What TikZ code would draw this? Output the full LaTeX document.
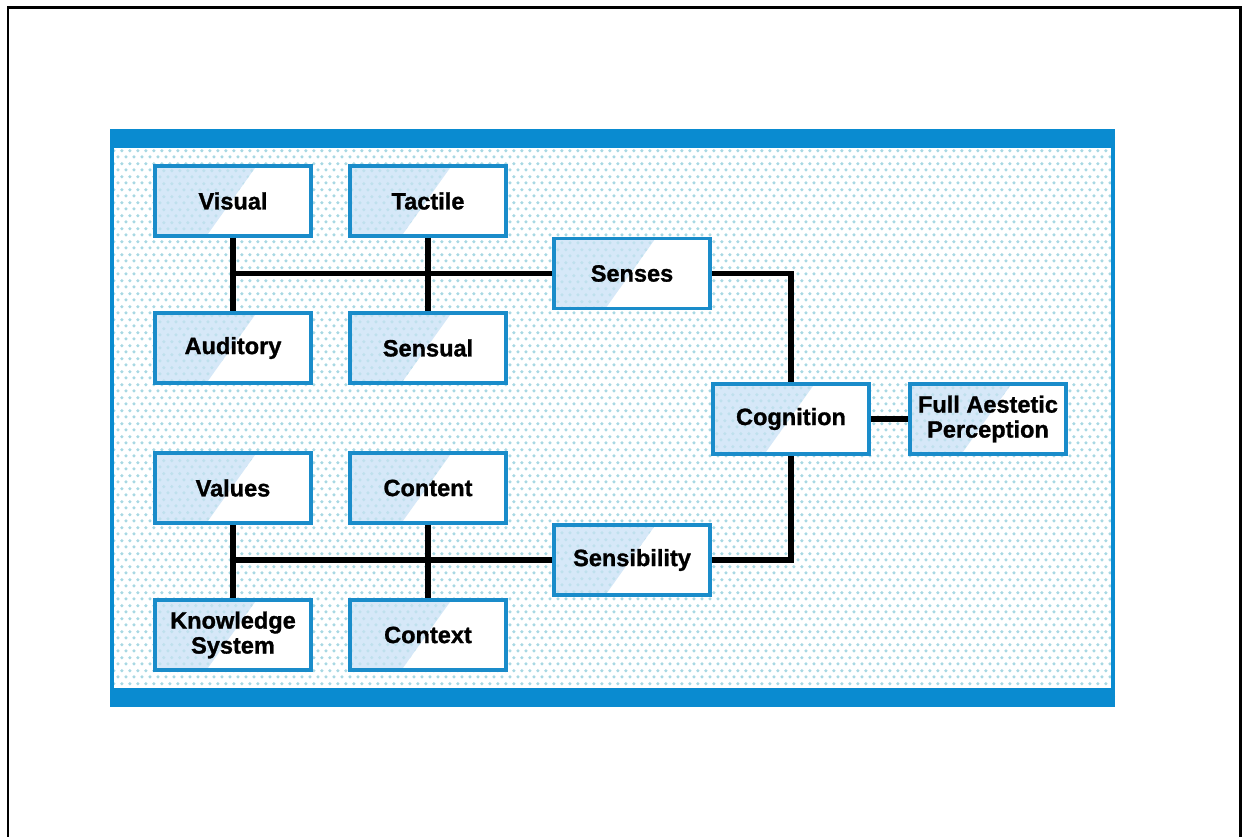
\documentclass[tikz,border=0pt]{standalone}
\usepackage{fontspec}
\setmainfont{Liberation Sans}[BoldFeatures={FakeBold=1.2}]
\usepackage{tikz}
\usetikzlibrary{calc,positioning,patterns}
\definecolor{barblue}{HTML}{0A8BD0}
\definecolor{boxblue}{HTML}{1A8CCA}
\definecolor{shadeblue}{HTML}{D6E8F8}
\definecolor{dotteal}{HTML}{A8D8E3}
\pgfdeclarepatternformonly{hexdots}{\pgfpoint{0pt}{0pt}}{\pgfpoint{4.76pt}{7.49pt}}{\pgfpoint{4.76pt}{7.49pt}}{
  \pgfpathcircle{\pgfpoint{1.19pt}{1.87pt}}{1.05pt}
  \pgfpathcircle{\pgfpoint{3.57pt}{5.62pt}}{1.05pt}
  \pgfusepath{fill}
}
\tikzset{
  fbox/.style={rectangle, draw=boxblue, fill=white, line width=2pt,
               minimum width=3.12cm, minimum height=1.4cm, inner sep=2pt,
               align=center, font=\fontsize{13.4}{14.2}\selectfont\bfseries,
               path picture={
                 \path[fill=shadeblue, postaction={pattern=hexdots, pattern color=dotteal!50!shadeblue}]
                   (path picture bounding box.north west)
                   -- ($(path picture bounding box.north west)!0.65!(path picture bounding box.north east)$)
                   -- ($(path picture bounding box.south west)!0.33!(path picture bounding box.south east)$)
                   -- (path picture bounding box.south west) -- cycle;}},
  link/.style={line width=3.3pt, draw=black}
}

\begin{document}
\begin{tikzpicture}
  \useasboundingbox (0,0) rectangle (24.84,16.74);
  \draw[line width=1.7pt] (0.16,0) -- (0.16,16.58) -- (24.8,16.58) -- (24.8,0);
  % dotted panel
  \fill[pattern=hexdots, pattern color=dotteal] (2.2,2.64) rectangle (22.3,14.12);
  \draw[barblue, line width=2.3pt] (2.24,2.64) rectangle (22.26,14.12);
  \fill[barblue] (2.2,13.78) rectangle (22.3,14.12);
  \fill[barblue] (2.2,2.64) rectangle (22.3,2.98);
  % boxes
  \node[fbox] (visual)    at ( 4.66, 12.72) {Visual};
  \node[fbox] (tactile)   at ( 8.56, 12.72) {Tactile};
  \node[fbox] (senses)    at (12.64, 11.27) {Senses};
  \node[fbox] (auditory)  at ( 4.66,  9.78) {Auditory};
  \node[fbox] (sensual)   at ( 8.56,  9.78) {Sensual};
  \node[fbox] (cognition) at (15.82,  8.36) {Cognition};
  \node[fbox] (full)      at (19.76,  8.36) {Full Aestetic\\Perception};
  \node[fbox] (values)    at ( 4.66,  6.98) {Values};
  \node[fbox] (content)   at ( 8.56,  6.98) {Content};
  \node[fbox] (sensib)    at (12.64,  5.54) {Sensibility};
  \node[fbox] (knowledge) at ( 4.66,  4.04) {Knowledge\\System};
  \node[fbox] (context)   at ( 8.56,  4.04) {Context};
  % links
  \draw[link] (visual.south) -- (auditory.north);
  \draw[link] (tactile.south) -- (sensual.north);
  \draw[link] (senses.west) -- (senses.west -| visual.south);
  \draw[link] (senses.east) -| (cognition.north);
  \draw[link] (values.south) -- (knowledge.north);
  \draw[link] (content.south) -- (context.north);
  \draw[link] (sensib.west) -- (sensib.west -| values.south);
  \draw[link] (sensib.east) -| (cognition.south);
  \draw[link] (cognition.east) -- (full.west);
\end{tikzpicture}
\end{document}
